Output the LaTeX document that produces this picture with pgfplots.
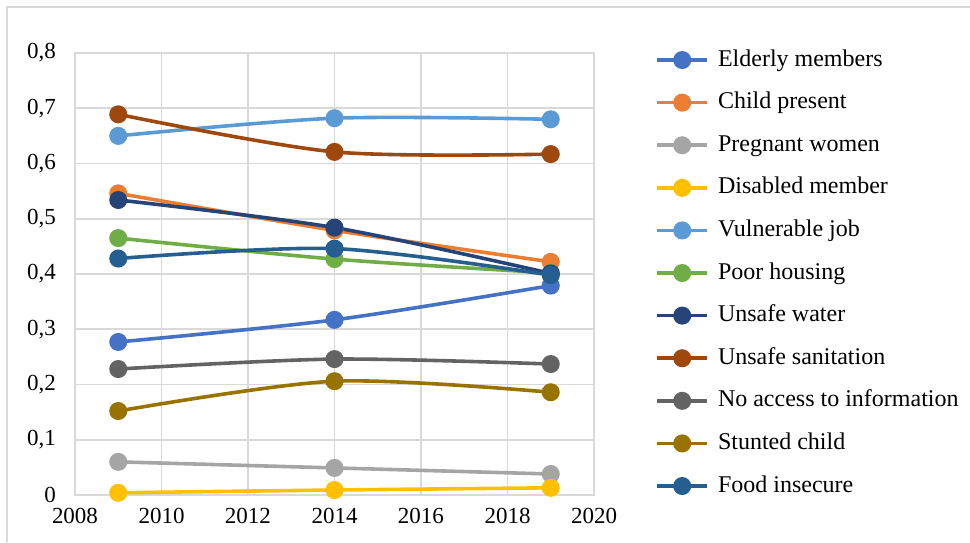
\documentclass[border=0pt]{standalone}
\usepackage{pgfplots}
\pgfplotsset{compat=1.18}
\usepackage{fontspec}
\setmainfont{Liberation Serif}

\definecolor{cA}{HTML}{4472C4}
\definecolor{cB}{HTML}{ED7D31}
\definecolor{cC}{HTML}{A5A5A5}
\definecolor{cD}{HTML}{FFC000}
\definecolor{cE}{HTML}{5B9BD5}
\definecolor{cF}{HTML}{70AD47}
\definecolor{cG}{HTML}{264478}
\definecolor{cH}{HTML}{9E480E}
\definecolor{cI}{HTML}{636363}
\definecolor{cJ}{HTML}{997300}
\definecolor{cK}{HTML}{255E91}
\definecolor{gridgray}{HTML}{D9D9D9}

\begin{document}
\begin{tikzpicture}
% page size and outer chart frame
\path[use as bounding box] (0pt,0pt) rectangle (485pt,271pt);
\draw[gridgray,line width=0.8pt] (3.5pt,0pt) -- (3.5pt,267.5pt) -- (485pt,267.5pt);
\begin{axis}[
  at={(37.5pt,23.5pt)}, anchor=origin,
  scale only axis, width=259.5pt, height=221pt,
  xmin=2008, xmax=2020, ymin=0, ymax=0.8,
  xtick={2008,2010,...,2020},
  ytick={0,0.1,...,0.8},
  grid=major,
  major grid style={gridgray,line width=0.9pt},
  axis line style={gridgray,line width=0.9pt},
  tick style={draw=none},
  font=\fontsize{11.5}{13}\selectfont,
  /pgf/number format/assume math mode=true,
  /pgf/number format/use comma,
  yticklabel style={/pgf/number format/fixed,/pgf/number format/precision=1,xshift=-6pt},
  xticklabel style={/pgf/number format/1000 sep={},yshift=-3pt},
  every axis plot/.append style={line width=1.8pt, smooth, tension=0.5,
    mark=*, mark size=3.6pt, mark options={solid}},
  % legend sample: short line with a single marker in its middle
  legend image code/.code={\draw[mark repeat=2,mark phase=2,#1]
    plot coordinates {(0pt,0pt) (12.5pt,0pt) (25pt,0pt)};},
  legend style={draw=none, fill=none, at={(1.106,1.0194)}, anchor=north west,
    font=\fontsize{12}{14}\selectfont,
    nodes={inner sep=0pt, text height=8.6pt, text depth=2.6pt},
    row sep=10.1pt,
    /tikz/every odd column/.append style={column sep=4.5pt}},
  legend cell align=left,
]
\addplot[cA, mark options={fill=cA}] coordinates {(2009,0.277) (2014,0.317) (2019,0.379)};
\addlegendentry{Elderly members}
\addplot[cB, mark options={fill=cB}] coordinates {(2009,0.546) (2014,0.479) (2019,0.422)};
\addlegendentry{Child present}
\addplot[cC, mark options={fill=cC}] coordinates {(2009,0.060) (2014,0.049) (2019,0.038)};
\addlegendentry{Pregnant women}
\addplot[cD, mark options={fill=cD}] coordinates {(2009,0.004) (2014,0.009) (2019,0.013)};
\addlegendentry{Disabled member}
\addplot[cE, mark options={fill=cE}] coordinates {(2009,0.650) (2014,0.682) (2019,0.680)};
\addlegendentry{Vulnerable job}
\addplot[cF, mark options={fill=cF}] coordinates {(2009,0.465) (2014,0.427) (2019,0.402)};
\addlegendentry{Poor housing}
\addplot[cG, mark options={fill=cG}] coordinates {(2009,0.534) (2014,0.484) (2019,0.401)};
\addlegendentry{Unsafe water}
\addplot[cH, mark options={fill=cH}] coordinates {(2009,0.689) (2014,0.621) (2019,0.617)};
\addlegendentry{Unsafe sanitation}
\addplot[cI, mark options={fill=cI}] coordinates {(2009,0.228) (2014,0.246) (2019,0.237)};
\addlegendentry{No access to information}
\addplot[cJ, mark options={fill=cJ}] coordinates {(2009,0.152) (2014,0.206) (2019,0.186)};
\addlegendentry{Stunted child}
\addplot[cK, mark options={fill=cK}] coordinates {(2009,0.428) (2014,0.446) (2019,0.398)};
\addlegendentry{Food insecure}
\end{axis}
\end{tikzpicture}
\end{document}
